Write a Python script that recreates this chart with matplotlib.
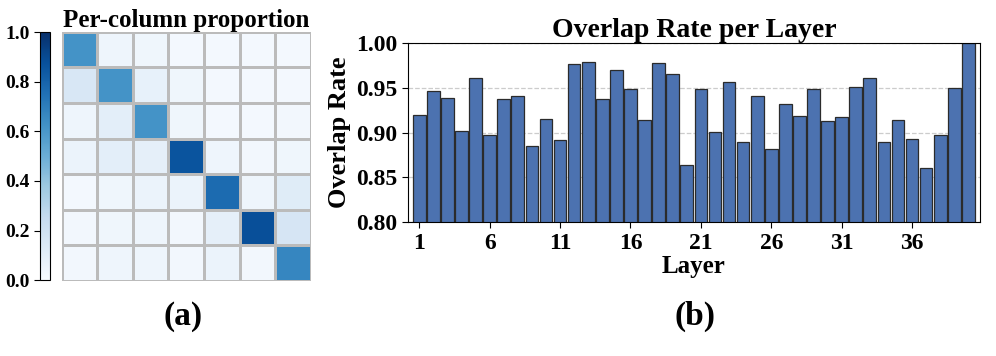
import matplotlib
matplotlib.use('Agg')
import matplotlib.pyplot as plt
import numpy as np

# per-column proportion matrix (7x7)
prop = [
    [0.62, 0.05, 0.04, 0.02, 0.02, 0.02, 0.02],
    [0.16, 0.62, 0.08, 0.04, 0.02, 0.02, 0.02],
    [0.05, 0.10, 0.62, 0.04, 0.02, 0.02, 0.03],
    [0.06, 0.10, 0.09, 0.86, 0.05, 0.03, 0.04],
    [0.02, 0.04, 0.06, 0.06, 0.77, 0.05, 0.12],
    [0.03, 0.04, 0.05, 0.03, 0.09, 0.88, 0.17],
    [0.03, 0.05, 0.05, 0.03, 0.06, 0.03, 0.67],
]

layers = list(range(1, 41))
overlap = [0.920, 0.947, 0.939, 0.902, 0.961, 0.897, 0.937, 0.941, 0.885, 0.915,
           0.892, 0.977, 0.979, 0.937, 0.970, 0.949, 0.914, 0.978, 0.966, 0.864,
           0.949, 0.901, 0.956, 0.890, 0.941, 0.882, 0.932, 0.919, 0.949, 0.913,
           0.917, 0.951, 0.961, 0.889, 0.914, 0.893, 0.860, 0.897, 0.950, 1.000]
xticks = [1, 6, 11, 16, 21, 26, 31, 36]
yticks = [0.80, 0.85, 0.90, 0.95, 1.00]

plt.rcParams['font.family'] = ['Liberation Serif', 'DejaVu Serif']
plt.rcParams['font.weight'] = 'bold'

fig = plt.figure(figsize=(9.96, 3.56), dpi=100)

# (a) heatmap
ax1 = fig.add_axes([0.062, 0.2115, 0.25, 0.699])
cax = fig.add_axes([0.040, 0.213, 0.010, 0.697])
m = ax1.pcolormesh(np.array(prop), cmap='Blues', vmin=0, vmax=1,
                   edgecolors='#bbbbbb', linewidth=1.0)
ax1.set_xlim(0, 7)
ax1.set_ylim(7, 0)
ax1.set_xticks([])
ax1.set_yticks([])
for s in ax1.spines.values():
    s.set_visible(False)
ax1.set_title('Per-column proportion', fontsize=18, fontweight='bold', pad=2)
cb = fig.colorbar(m, cax=cax)
cb.set_ticks([0.0, 0.2, 0.4, 0.6, 0.8, 1.0])
cax.yaxis.set_ticks_position('left')
cax.yaxis.set_label_position('left')
cax.tick_params(labelsize=14, length=4)
for t in cax.get_yticklabels():
    t.set_fontweight('bold')
fig.text(0.184, 0.11, '(a)', fontsize=24, fontweight='bold', ha='center', va='center')

# (b) bar chart
ax2 = fig.add_axes([0.4096, 0.376, 0.574, 0.503])
ax2.bar(layers, overlap, width=0.9, color='#4c72b0', edgecolor='#2b2b2b',
        linewidth=0.9, zorder=2)
ax2.set_ylim(0.80, 1.00)
ax2.set_xlim(0.2, 40.8)
ax2.set_xticks(xticks)
ax2.set_yticks(yticks)
ax2.set_yticklabels(['%.2f' % v for v in yticks])
ax2.tick_params(labelsize=17, length=4)
for t in ax2.get_xticklabels() + ax2.get_yticklabels():
    t.set_fontweight('bold')
ax2.yaxis.grid(True, linestyle='--', color='#cccccc', linewidth=0.9, zorder=0)
ax2.set_axisbelow(True)
ax2.set_title('Overlap Rate per Layer', fontsize=20, fontweight='bold', pad=4)
ax2.set_xlabel('Layer', fontsize=18, fontweight='bold', labelpad=1)
ax2.set_ylabel('Overlap Rate', fontsize=19, fontweight='bold', labelpad=4)
fig.text(0.698, 0.11, '(b)', fontsize=24, fontweight='bold', ha='center', va='center')

plt.savefig('out.png', dpi=100)
